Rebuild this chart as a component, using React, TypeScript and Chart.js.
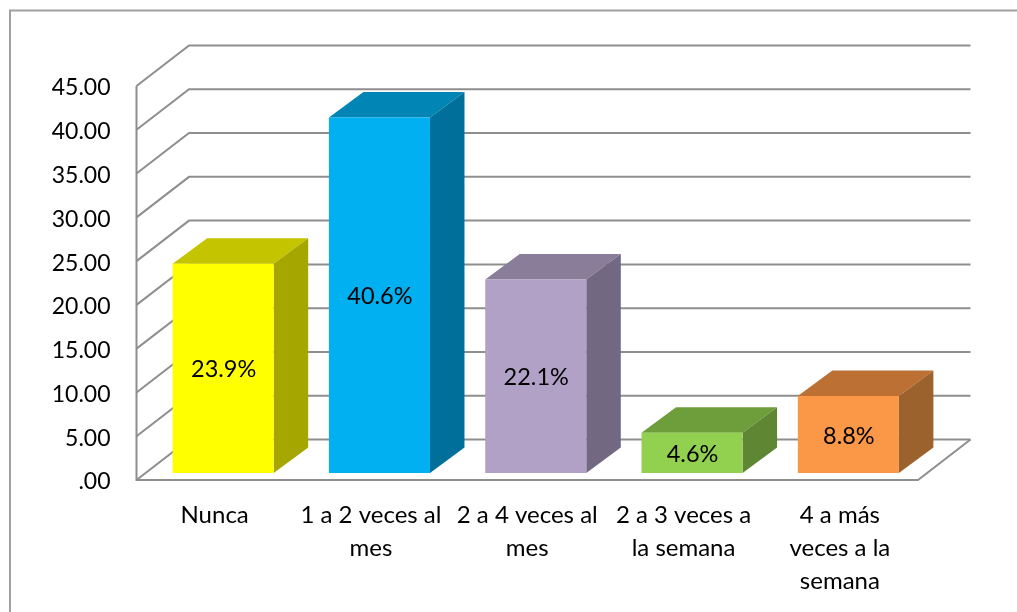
import React, { useEffect, useRef } from "react";
import { Chart, registerables } from "chart.js";

Chart.register(...registerables);

const categories: string[][] = [
  ["Nunca"],
  ["1 a 2 veces al", "mes"],
  ["2 a 4 veces al", "mes"],
  ["2 a 3 veces a", "la semana"],
  ["4 a más", "veces a la", "semana"],
];
const values = [23.9, 40.6, 22.1, 4.6, 8.8];
const frontColors = ["#FFFF00", "#00B0F0", "#B2A1C7", "#92D050", "#FB9848"];
const topColors = ["#C4C400", "#0085B5", "#8A7D9A", "#6E9D3C", "#BC7034"];
const sideColors = ["#A6A600", "#00709A", "#736881", "#5F8733", "#9C622D"];

const FONT = "Lato, Carlito, sans-serif";
const GRID = "#8E8E8E";

const wall = { dx: 52.5, dy: -40.5 };
const barShift = { dx: 8.5, dy: -7 };
const depth = { dx: 34.5, dy: -25.5 };

const frame = {
  id: "frame",
  beforeDraw(chart: any) {
    const c = chart.ctx;
    c.save();
    c.strokeStyle = "#A0A0A0";
    c.lineWidth = 2;
    c.beginPath();
    c.moveTo(10, chart.height);
    c.lineTo(10, 10.5);
    c.lineTo(chart.width, 10.5);
    c.stroke();
    c.restore();
    const items = chart.scales.y.getLabelItems();
    if (!items.shifted) {
      items.forEach((it: any) => {
        it.options.translation[1] += 2;
      });
      items.shifted = true;
    }
  },
};

const walls = {
  id: "walls",
  beforeDatasetsDraw(chart: any) {
    const c = chart.ctx;
    const { left, right, top, bottom } = chart.chartArea;
    const y = chart.scales.y;
    c.save();
    c.strokeStyle = GRID;
    c.lineWidth = 2;
    c.lineJoin = "miter";
    y.ticks.forEach((t: any) => {
      const py = y.getPixelForValue(t.value);
      c.beginPath();
      c.moveTo(left, py);
      c.lineTo(left + wall.dx, py + wall.dy);
      c.lineTo(right + wall.dx, py + wall.dy);
      c.stroke();
    });
    c.beginPath();
    c.moveTo(left, top);
    c.lineTo(left, bottom);
    c.lineTo(right, bottom);
    c.lineTo(right + wall.dx, bottom + wall.dy);
    c.stroke();
    c.restore();
  },
};

const bars3d = {
  id: "bars3d",
  beforeDatasetDraw(chart: any, args: any) {
    const c = chart.ctx;
    const meta = chart.getDatasetMeta(args.index);
    c.save();
    c.translate(barShift.dx, barShift.dy);
    meta.data.forEach((bar: any, i: number) => {
      const l = bar.x - bar.width / 2;
      const r = bar.x + bar.width / 2;
      const t = bar.y;
      const b = bar.base;
      c.fillStyle = topColors[i];
      c.beginPath();
      c.moveTo(l, t);
      c.lineTo(l + depth.dx, t + depth.dy);
      c.lineTo(r + depth.dx, t + depth.dy);
      c.lineTo(r, t);
      c.closePath();
      c.fill();
      c.fillStyle = sideColors[i];
      c.beginPath();
      c.moveTo(r, t);
      c.lineTo(r + depth.dx, t + depth.dy);
      c.lineTo(r + depth.dx, b + depth.dy);
      c.lineTo(r, b);
      c.closePath();
      c.fill();
    });
  },
  afterDatasetDraw(chart: any, args: any) {
    const c = chart.ctx;
    const meta = chart.getDatasetMeta(args.index);
    c.fillStyle = "#000000";
    c.font = `23.5px ${FONT}`;
    c.textAlign = "center";
    c.textBaseline = "middle";
    meta.data.forEach((bar: any, i: number) => {
      c.fillText(values[i].toFixed(1) + "%", bar.x + 0.5, (bar.y + bar.base) / 2 + 1.5);
    });
    c.restore();
  },
};

export default function App() {
  const ref = useRef<HTMLCanvasElement>(null);
  useEffect(() => {
    document.body.style.margin = "0";
    const chart = new Chart(ref.current!, {
      type: "bar",
      data: {
        labels: categories,
        datasets: [
          {
            data: values,
            backgroundColor: frontColors,
            borderWidth: 0,
            categoryPercentage: 1,
            barPercentage: 0.6466,
          },
        ],
      },
      options: {
        responsive: false,
        animation: false,
        layout: { padding: { top: 86, right: 99, bottom: 0, left: 0 } },
        plugins: { legend: { display: false }, tooltip: { enabled: false } },
        scales: {
          x: {
            grid: { display: false },
            border: { display: false },
            afterFit(s: any) {
              s.height = 132;
            },
            ticks: {
              color: "#000000",
              font: { family: FONT, size: 24, lineHeight: 1.375 },
              padding: 11,
              maxRotation: 0,
              autoSkip: false,
            },
          },
          y: {
            min: 0,
            max: 45,
            grid: { display: false },
            border: { display: false },
            afterFit(s: any) {
              s.width = 136.5;
            },
            ticks: {
              stepSize: 5,
              color: "#000000",
              font: { family: FONT, size: 23 },
              padding: 18,
              callback: (v: any) => (Number(v) === 0 ? ".00" : Number(v).toFixed(2)),
            },
          },
        },
      },
      plugins: [frame, walls, bars3d],
    } as any);
    return () => chart.destroy();
  }, []);
  return (
    <canvas
      ref={ref}
      width={1017}
      height={612}
      style={{ display: "block", width: 1017, height: 612, background: "#ffffff" }}
    />
  );
}
